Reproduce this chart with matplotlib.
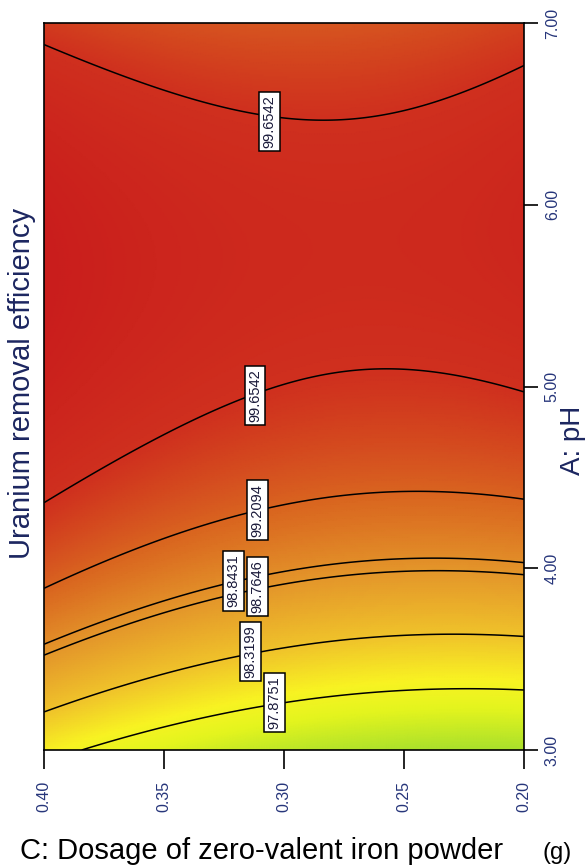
import numpy as np
import matplotlib
matplotlib.use("Agg")
import matplotlib.pyplot as plt
from matplotlib.colors import LinearSegmentedColormap

plt.rcParams['font.family'] = ['Liberation Sans', 'DejaVu Sans']

# ---- data ----
# contour levels (Uranium removal efficiency, %)
levels = [97.8751, 98.3199, 98.7646, 98.8431, 99.2094, 99.6542]

# contour crossings: dosage (g), pH, level
obs_dose = [0.40, 0.40, 0.40, 0.40, 0.40, 0.40,
            0.384,
            0.356, 0.356, 0.356, 0.356, 0.356, 0.356,
            0.306, 0.306, 0.306, 0.306, 0.306,
            0.293,
            0.243, 0.243, 0.243, 0.243, 0.243, 0.243,
            0.20, 0.20, 0.20, 0.20, 0.20, 0.20, 0.20,
            0.376, 0.340, 0.309, 0.2975, 0.273, 0.247, 0.223]
obs_ph = [4.36, 6.90, 3.89, 3.59, 3.52, 3.21,
          3.00,
          4.69, 4.14, 3.79, 3.73, 3.40, 3.11,
          4.97, 4.32, 3.98, 3.90, 3.55,
          3.26,
          5.07, 4.42, 4.05, 3.99, 3.63, 3.33,
          4.94, 6.78, 4.37, 4.03, 4.01, 3.62, 3.33,
          6.75, 6.58, 6.47, 6.45, 6.45, 6.52, 6.64]
obs_level = [99.6542, 99.6542, 99.2094, 98.8431, 98.7646, 98.3199,
             97.8751,
             99.6542, 99.2094, 98.8431, 98.7646, 98.3199, 97.8751,
             99.6542, 99.2094, 98.8431, 98.7646, 98.3199,
             97.8751,
             99.6542, 99.2094, 98.8431, 98.7646, 98.3199, 97.8751,
             99.6542, 99.6542, 99.2094, 98.8431, 98.7646, 98.3199, 97.8751,
             99.6542, 99.6542, 99.6542, 99.6542, 99.6542, 99.6542, 99.6542]

# contour label positions (dosage, pH) and texts
label_level = [99.6542, 99.6542, 99.2094, 98.8431, 98.7646, 98.3199, 97.8751]
label_dose = [0.306, 0.312, 0.311, 0.321, 0.311, 0.314, 0.304]
label_ph = [6.46, 4.95, 4.32, 3.93, 3.90, 3.54, 3.26]

x_ticks = [0.40, 0.35, 0.30, 0.25, 0.20]
x_ticklabels = ['0.40', '0.35', '0.30', '0.25', '0.20']
y_ticks = [3.0, 4.0, 5.0, 6.0, 7.0]
y_ticklabels = ['3.00', '4.00', '5.00', '6.00', '7.00']

# ---- fit a quadratic response surface to the read contour crossings ----
d = np.array(obs_dose)
p = np.array(obs_ph)
zobs = np.array(obs_level)
A = np.column_stack([np.ones_like(d), d, p, d * p, d ** 2, p ** 2])
coef, *_ = np.linalg.lstsq(A, zobs, rcond=None)

def surface(dd, pp):
    return (coef[0] + coef[1] * dd + coef[2] * pp + coef[3] * dd * pp
            + coef[4] * dd ** 2 + coef[5] * pp ** 2)

dg = np.linspace(0.20, 0.40, 300)
pg = np.linspace(3.0, 7.0, 400)
D, P = np.meshgrid(dg, pg)
Z = surface(D, P)

# colour map: green-yellow (low) -> yellow -> orange -> red (high)
stops = [(97.3, '#a8e02c'), (97.7, '#e4f41e'), (97.95, '#f8f322'),
         (98.3, '#f0c52a'), (98.75, '#e4982a'), (99.2, '#d9651f'),
         (99.65, '#cf301e'), (100.25, '#c8191b')]
zmin, zmax = stops[0][0], stops[-1][0]
cmap = LinearSegmentedColormap.from_list(
    'de', [((v - zmin) / (zmax - zmin), c) for v, c in stops])

fig = plt.figure(figsize=(5.87, 8.67), dpi=100)
ax = fig.add_axes([44 / 587, 1 - 750 / 867, (524 - 44) / 587, (750 - 23) / 867])

ax.pcolormesh(D, P, Z, cmap=cmap, vmin=zmin, vmax=zmax, shading='gouraud',
              rasterized=True)
ax.contour(D, P, Z, levels=sorted(set(levels)), colors='black', linewidths=1.1)

for lv, ld, lp in zip(label_level, label_dose, label_ph):
    ax.text(ld, lp, f'{lv:.4f}', rotation=90, ha='center', va='center',
            fontsize=10.5, color='#1a1a3a', zorder=5,
            bbox=dict(boxstyle='square,pad=0.22', fc='white', ec='black', lw=1.1))

ax.set_xlim(0.40, 0.20)
ax.set_ylim(3.0, 7.0)
ax.set_xticks(x_ticks)
ax.set_xticklabels(x_ticklabels, rotation=90, color='#26357a', fontsize=11.5)
ax.yaxis.tick_right()
ax.set_yticks(y_ticks)
ax.set_yticklabels(y_ticklabels, rotation=90, va='center', color='#26357a', fontsize=11.5)
ax.tick_params(axis='x', length=14, width=1.2, pad=8, direction='out')
ax.tick_params(axis='y', length=10, width=1.2, pad=5, direction='out')
for s in ax.spines.values():
    s.set_linewidth(1.2)

fig.text(22 / 587, 1 - 383 / 867, 'Uranium removal efficiency', rotation=90,
         ha='center', va='center', fontsize=21, color='#1c2660')
fig.text(573 / 587, 1 - 440 / 867, 'A: pH', rotation=90, ha='center', va='center',
         fontsize=20, color='#1c2660')
fig.text(20 / 587, 1 - 859 / 867, 'C: Dosage of zero-valent iron powder',
         ha='left', va='baseline', fontsize=21, color='black')
fig.text(572 / 587, 1 - 859 / 867, '(g)', ha='right', va='baseline',
         fontsize=17, color='black')

fig.savefig('out.png', dpi=100)
